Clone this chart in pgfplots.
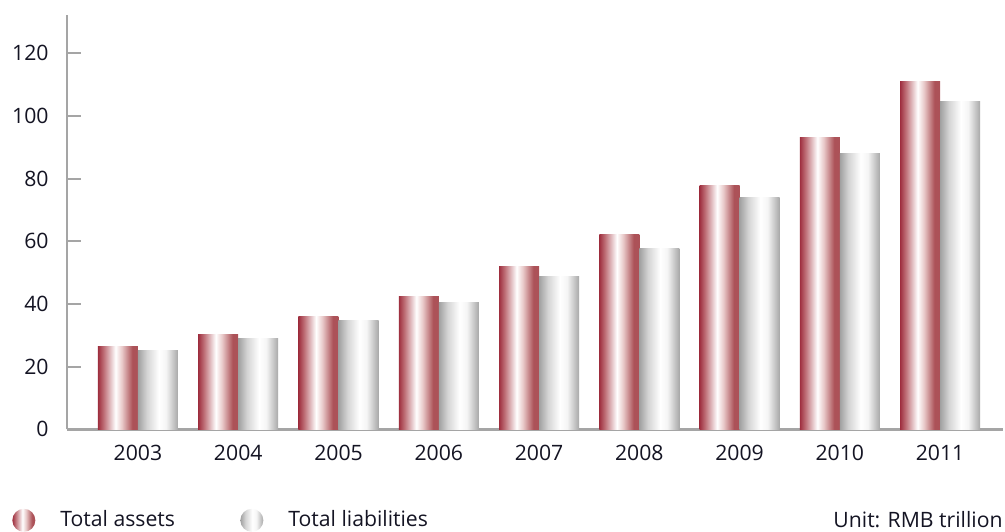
\documentclass[border=0pt]{standalone}
\usepackage{pgfplots}
\pgfplotsset{compat=1.18}
\usepackage{fontspec}
\setmainfont{Open Sans}
\definecolor{axgray}{RGB}{165,165,165}
\definecolor{txt}{RGB}{20,20,35}
\definecolor{rdark}{RGB}{158,46,62}
\definecolor{rmid}{RGB}{190,110,118}
\definecolor{rlight}{RGB}{232,200,200}
\definecolor{rright}{RGB}{172,82,88}
\definecolor{gleft}{RGB}{160,160,160}
\definecolor{gmid}{RGB}{212,212,212}
\definecolor{glight}{RGB}{245,245,245}
\definecolor{gright}{RGB}{168,168,168}
\pgfdeclarehorizontalshading{assetsshade}{100bp}{color(0bp)=(rdark); color(25bp)=(rdark); color(32bp)=(rmid); color(47bp)=(white); color(55bp)=(rlight); color(68bp)=(rright); color(75bp)=(rright); color(100bp)=(rright)}
\pgfdeclarehorizontalshading{liabshade}{100bp}{color(0bp)=(gleft); color(25bp)=(gleft); color(36bp)=(gmid); color(51bp)=(white); color(60bp)=(glight); color(75bp)=(gright); color(100bp)=(gright)}
\pgfplotsset{
  assets/.style={ybar, bar width=20pt, bar shift=-10pt, draw=none, shading=assetsshade, forget plot},
  liab/.style={ybar, bar width=20pt, bar shift=10pt, draw=none, shading=liabshade, forget plot},
}
\begin{document}
\begin{tikzpicture}
\useasboundingbox (0,0) rectangle (502.5pt,265.5pt);
\begin{axis}[
  at={(33.5pt,50.85pt)}, anchor=south west,
  scale only axis, width=468pt, height=207pt,
  xmin=-0.708, xmax=8.628, ymin=0, ymax=132.1,
  clip=false,
  axis lines*=left,
  axis line style={draw=axgray, line width=1.2pt},
  xtick={0,...,8},
  xticklabels={2003,2004,2005,2006,2007,2008,2009,2010,2011},
  xtick style={draw=none},
  ytick={0,20,40,60,80,100,120},
  ytick style={draw=axgray, line width=1pt},
  tick align=inside, major tick length=7pt,
  ticklabel style={font=\fontsize{10.6}{12}\selectfont, text=txt},
  /pgf/number format/assume math mode=true,
  xticklabel style={inner ysep=0pt}, xticklabel shift=7.5pt,
  yticklabel style={inner xsep=0pt}, yticklabel shift=9pt,
  legend columns=2,
  legend style={at={(-0.0588,-0.2198)}, anchor=west, draw=none, fill=none,
    inner sep=0pt, nodes={inner sep=0pt, font=\fontsize{10.6}{12}\selectfont, text=txt},
    /tikz/every odd column/.append style={column sep=12.5pt}},
]
\addlegendimage{draw=none, legend image code/.code={\shade[shading=assetsshade, draw=none] (5.75pt,0pt) circle[radius=5.75pt];}}
\addlegendentry{\makebox[90pt][l]{Total assets}}
\addlegendimage{draw=none, legend image code/.code={\shade[shading=liabshade, draw=none] (5.75pt,0pt) circle[radius=5.75pt];}}
\addlegendentry{Total liabilities}
% Total assets
\addplot[assets] coordinates {(0,26.4)};
\addplot[assets] coordinates {(1,30.2)};
\addplot[assets] coordinates {(2,36.0)};
\addplot[assets] coordinates {(3,42.5)};
\addplot[assets] coordinates {(4,52.1)};
\addplot[assets] coordinates {(5,62.2)};
\addplot[assets] coordinates {(6,77.7)};
\addplot[assets] coordinates {(7,93.1)};
\addplot[assets] coordinates {(8,110.9)};
% Total liabilities
\addplot[liab] coordinates {(0,25.2)};
\addplot[liab] coordinates {(1,29.0)};
\addplot[liab] coordinates {(2,34.8)};
\addplot[liab] coordinates {(3,40.5)};
\addplot[liab] coordinates {(4,48.9)};
\addplot[liab] coordinates {(5,57.8)};
\addplot[liab] coordinates {(6,73.9)};
\addplot[liab] coordinates {(7,87.9)};
\addplot[liab] coordinates {(8,104.5)};
\node[anchor=base east, inner sep=0pt, font=\fontsize{10.6}{12}\selectfont, text=txt] at (rel axis cs:1,-0.2367) {Unit: RMB trillion};
\end{axis}
\end{tikzpicture}
\end{document}
